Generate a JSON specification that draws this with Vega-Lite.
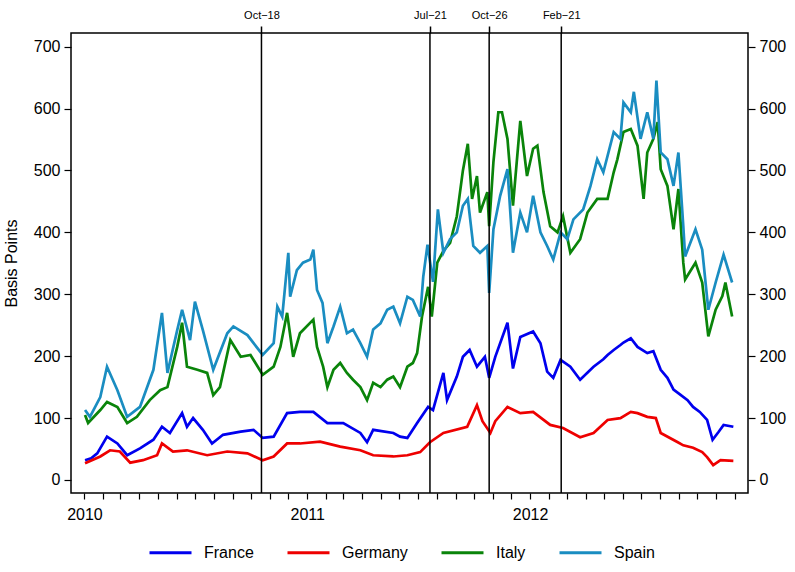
{
  "$schema": "https://vega.github.io/schema/vega-lite/v6.json",
  "width": 677,
  "height": 460,
  "autosize": {"type": "none"},
  "padding": {"left": 71, "top": 33, "right": 47, "bottom": 79},
  "config": {
    "font": "Liberation Sans",
    "view": {"stroke": "black", "strokeWidth": 1.5},
    "axis": {
      "domain": false,
      "grid": false,
      "tickColor": "black",
      "tickWidth": 1.2,
      "tickSize": 7,
      "labelColor": "black",
      "labelFont": "Liberation Sans",
      "labelFontSize": 16,
      "titleFont": "Liberation Sans",
      "titleFontSize": 16,
      "titleFontWeight": "normal",
      "titleColor": "black"
    }
  },
  "data": {
    "values": [
      {"date": "2010-01-02", "country": "France", "value": 32},
      {"date": "2010-01-12", "country": "France", "value": 35},
      {"date": "2010-01-22", "country": "France", "value": 43},
      {"date": "2010-02-07", "country": "France", "value": 70},
      {"date": "2010-02-24", "country": "France", "value": 59},
      {"date": "2010-03-12", "country": "France", "value": 40},
      {"date": "2010-04-02", "country": "France", "value": 51},
      {"date": "2010-04-24", "country": "France", "value": 65},
      {"date": "2010-05-08", "country": "France", "value": 86},
      {"date": "2010-05-21", "country": "France", "value": 76},
      {"date": "2010-06-10", "country": "France", "value": 108},
      {"date": "2010-06-18", "country": "France", "value": 86},
      {"date": "2010-06-28", "country": "France", "value": 100},
      {"date": "2010-07-14", "country": "France", "value": 81},
      {"date": "2010-07-29", "country": "France", "value": 59},
      {"date": "2010-08-16", "country": "France", "value": 73},
      {"date": "2010-09-14", "country": "France", "value": 78},
      {"date": "2010-10-05", "country": "France", "value": 81},
      {"date": "2010-10-20", "country": "France", "value": 68},
      {"date": "2010-11-07", "country": "France", "value": 70},
      {"date": "2010-11-29", "country": "France", "value": 108},
      {"date": "2010-12-20", "country": "France", "value": 110},
      {"date": "2011-01-11", "country": "France", "value": 110},
      {"date": "2011-02-03", "country": "France", "value": 92},
      {"date": "2011-03-01", "country": "France", "value": 92},
      {"date": "2011-03-29", "country": "France", "value": 76},
      {"date": "2011-04-09", "country": "France", "value": 61},
      {"date": "2011-04-19", "country": "France", "value": 81},
      {"date": "2011-05-22", "country": "France", "value": 76},
      {"date": "2011-06-02", "country": "France", "value": 70},
      {"date": "2011-06-14", "country": "France", "value": 68},
      {"date": "2011-06-30", "country": "France", "value": 92},
      {"date": "2011-07-18", "country": "France", "value": 118},
      {"date": "2011-07-26", "country": "France", "value": 113},
      {"date": "2011-08-12", "country": "France", "value": 173},
      {"date": "2011-08-18", "country": "France", "value": 129},
      {"date": "2011-09-03", "country": "France", "value": 167},
      {"date": "2011-09-13", "country": "France", "value": 199},
      {"date": "2011-09-24", "country": "France", "value": 210},
      {"date": "2011-10-06", "country": "France", "value": 183},
      {"date": "2011-10-19", "country": "France", "value": 199},
      {"date": "2011-10-26", "country": "France", "value": 165},
      {"date": "2011-11-05", "country": "France", "value": 199},
      {"date": "2011-11-25", "country": "France", "value": 254},
      {"date": "2011-12-04", "country": "France", "value": 180},
      {"date": "2011-12-16", "country": "France", "value": 231},
      {"date": "2012-01-06", "country": "France", "value": 240},
      {"date": "2012-01-18", "country": "France", "value": 221},
      {"date": "2012-01-29", "country": "France", "value": 175},
      {"date": "2012-02-08", "country": "France", "value": 165},
      {"date": "2012-02-20", "country": "France", "value": 194},
      {"date": "2012-03-07", "country": "France", "value": 183},
      {"date": "2012-03-23", "country": "France", "value": 162},
      {"date": "2012-04-14", "country": "France", "value": 183},
      {"date": "2012-04-30", "country": "France", "value": 195},
      {"date": "2012-05-07", "country": "France", "value": 202},
      {"date": "2012-05-17", "country": "France", "value": 210},
      {"date": "2012-05-28", "country": "France", "value": 218},
      {"date": "2012-06-02", "country": "France", "value": 222},
      {"date": "2012-06-14", "country": "France", "value": 229},
      {"date": "2012-06-25", "country": "France", "value": 215},
      {"date": "2012-07-11", "country": "France", "value": 205},
      {"date": "2012-07-21", "country": "France", "value": 208},
      {"date": "2012-08-02", "country": "France", "value": 178},
      {"date": "2012-08-13", "country": "France", "value": 165},
      {"date": "2012-08-23", "country": "France", "value": 146},
      {"date": "2012-09-03", "country": "France", "value": 138},
      {"date": "2012-09-15", "country": "France", "value": 129},
      {"date": "2012-09-24", "country": "France", "value": 118},
      {"date": "2012-10-05", "country": "France", "value": 110},
      {"date": "2012-10-17", "country": "France", "value": 97},
      {"date": "2012-10-26", "country": "France", "value": 65},
      {"date": "2012-11-05", "country": "France", "value": 78},
      {"date": "2012-11-13", "country": "France", "value": 89},
      {"date": "2012-11-29", "country": "France", "value": 86},

      {"date": "2010-01-02", "country": "Germany", "value": 27},
      {"date": "2010-01-27", "country": "Germany", "value": 38},
      {"date": "2010-02-12", "country": "Germany", "value": 48},
      {"date": "2010-02-28", "country": "Germany", "value": 46},
      {"date": "2010-03-17", "country": "Germany", "value": 28},
      {"date": "2010-04-07", "country": "Germany", "value": 32},
      {"date": "2010-04-30", "country": "Germany", "value": 40},
      {"date": "2010-05-08", "country": "Germany", "value": 59},
      {"date": "2010-05-26", "country": "Germany", "value": 46},
      {"date": "2010-06-18", "country": "Germany", "value": 48},
      {"date": "2010-07-21", "country": "Germany", "value": 40},
      {"date": "2010-08-23", "country": "Germany", "value": 46},
      {"date": "2010-09-25", "country": "Germany", "value": 43},
      {"date": "2010-10-20", "country": "Germany", "value": 32},
      {"date": "2010-11-07", "country": "Germany", "value": 38},
      {"date": "2010-11-29", "country": "Germany", "value": 59},
      {"date": "2010-12-20", "country": "Germany", "value": 59},
      {"date": "2011-01-22", "country": "Germany", "value": 62},
      {"date": "2011-02-24", "country": "Germany", "value": 54},
      {"date": "2011-03-29", "country": "Germany", "value": 48},
      {"date": "2011-04-19", "country": "Germany", "value": 40},
      {"date": "2011-05-22", "country": "Germany", "value": 38},
      {"date": "2011-06-14", "country": "Germany", "value": 40},
      {"date": "2011-07-05", "country": "Germany", "value": 45},
      {"date": "2011-07-21", "country": "Germany", "value": 61},
      {"date": "2011-08-12", "country": "Germany", "value": 76},
      {"date": "2011-09-20", "country": "Germany", "value": 86},
      {"date": "2011-10-06", "country": "Germany", "value": 121},
      {"date": "2011-10-15", "country": "Germany", "value": 95},
      {"date": "2011-10-28", "country": "Germany", "value": 76},
      {"date": "2011-11-05", "country": "Germany", "value": 95},
      {"date": "2011-11-25", "country": "Germany", "value": 118},
      {"date": "2011-12-16", "country": "Germany", "value": 108},
      {"date": "2012-01-06", "country": "Germany", "value": 110},
      {"date": "2012-02-03", "country": "Germany", "value": 89},
      {"date": "2012-02-24", "country": "Germany", "value": 84},
      {"date": "2012-03-23", "country": "Germany", "value": 69},
      {"date": "2012-04-14", "country": "Germany", "value": 76},
      {"date": "2012-05-07", "country": "Germany", "value": 97},
      {"date": "2012-05-28", "country": "Germany", "value": 100},
      {"date": "2012-06-14", "country": "Germany", "value": 110},
      {"date": "2012-06-25", "country": "Germany", "value": 108},
      {"date": "2012-07-11", "country": "Germany", "value": 102},
      {"date": "2012-07-25", "country": "Germany", "value": 100},
      {"date": "2012-08-02", "country": "Germany", "value": 76},
      {"date": "2012-08-30", "country": "Germany", "value": 61},
      {"date": "2012-09-08", "country": "Germany", "value": 56},
      {"date": "2012-09-24", "country": "Germany", "value": 52},
      {"date": "2012-10-09", "country": "Germany", "value": 45},
      {"date": "2012-10-17", "country": "Germany", "value": 37},
      {"date": "2012-10-27", "country": "Germany", "value": 24},
      {"date": "2012-11-08", "country": "Germany", "value": 32},
      {"date": "2012-11-29", "country": "Germany", "value": 31},

      {"date": "2010-01-02", "country": "Italy", "value": 105},
      {"date": "2010-01-07", "country": "Italy", "value": 92},
      {"date": "2010-01-27", "country": "Italy", "value": 113},
      {"date": "2010-02-07", "country": "Italy", "value": 126},
      {"date": "2010-02-24", "country": "Italy", "value": 118},
      {"date": "2010-03-12", "country": "Italy", "value": 92},
      {"date": "2010-03-28", "country": "Italy", "value": 102},
      {"date": "2010-04-18", "country": "Italy", "value": 129},
      {"date": "2010-05-05", "country": "Italy", "value": 145},
      {"date": "2010-05-17", "country": "Italy", "value": 150},
      {"date": "2010-06-02", "country": "Italy", "value": 215},
      {"date": "2010-06-10", "country": "Italy", "value": 254},
      {"date": "2010-06-18", "country": "Italy", "value": 183},
      {"date": "2010-07-05", "country": "Italy", "value": 178},
      {"date": "2010-07-21", "country": "Italy", "value": 173},
      {"date": "2010-07-31", "country": "Italy", "value": 137},
      {"date": "2010-08-11", "country": "Italy", "value": 150},
      {"date": "2010-08-28", "country": "Italy", "value": 226},
      {"date": "2010-09-14", "country": "Italy", "value": 199},
      {"date": "2010-09-30", "country": "Italy", "value": 202},
      {"date": "2010-10-20", "country": "Italy", "value": 170},
      {"date": "2010-11-07", "country": "Italy", "value": 183},
      {"date": "2010-11-18", "country": "Italy", "value": 215},
      {"date": "2010-11-29", "country": "Italy", "value": 270},
      {"date": "2010-12-09", "country": "Italy", "value": 199},
      {"date": "2010-12-20", "country": "Italy", "value": 237},
      {"date": "2011-01-11", "country": "Italy", "value": 259},
      {"date": "2011-01-17", "country": "Italy", "value": 215},
      {"date": "2011-01-27", "country": "Italy", "value": 183},
      {"date": "2011-02-03", "country": "Italy", "value": 150},
      {"date": "2011-02-13", "country": "Italy", "value": 178},
      {"date": "2011-02-24", "country": "Italy", "value": 189},
      {"date": "2011-03-07", "country": "Italy", "value": 173},
      {"date": "2011-03-17", "country": "Italy", "value": 162},
      {"date": "2011-03-29", "country": "Italy", "value": 150},
      {"date": "2011-04-09", "country": "Italy", "value": 129},
      {"date": "2011-04-19", "country": "Italy", "value": 157},
      {"date": "2011-05-01", "country": "Italy", "value": 150},
      {"date": "2011-05-12", "country": "Italy", "value": 162},
      {"date": "2011-05-22", "country": "Italy", "value": 167},
      {"date": "2011-06-02", "country": "Italy", "value": 150},
      {"date": "2011-06-14", "country": "Italy", "value": 183},
      {"date": "2011-06-23", "country": "Italy", "value": 189},
      {"date": "2011-06-30", "country": "Italy", "value": 205},
      {"date": "2011-07-08", "country": "Italy", "value": 264},
      {"date": "2011-07-18", "country": "Italy", "value": 312},
      {"date": "2011-07-24", "country": "Italy", "value": 264},
      {"date": "2011-08-02", "country": "Italy", "value": 351},
      {"date": "2011-08-12", "country": "Italy", "value": 370},
      {"date": "2011-08-23", "country": "Italy", "value": 383},
      {"date": "2011-09-03", "country": "Italy", "value": 426},
      {"date": "2011-09-13", "country": "Italy", "value": 500},
      {"date": "2011-09-21", "country": "Italy", "value": 543},
      {"date": "2011-09-28", "country": "Italy", "value": 454},
      {"date": "2011-10-06", "country": "Italy", "value": 491},
      {"date": "2011-10-11", "country": "Italy", "value": 432},
      {"date": "2011-10-23", "country": "Italy", "value": 465},
      {"date": "2011-10-26", "country": "Italy", "value": 410},
      {"date": "2011-11-02", "country": "Italy", "value": 514},
      {"date": "2011-11-10", "country": "Italy", "value": 594},
      {"date": "2011-11-16", "country": "Italy", "value": 594},
      {"date": "2011-11-25", "country": "Italy", "value": 551},
      {"date": "2011-12-04", "country": "Italy", "value": 443},
      {"date": "2011-12-16", "country": "Italy", "value": 580},
      {"date": "2011-12-27", "country": "Italy", "value": 491},
      {"date": "2012-01-06", "country": "Italy", "value": 535},
      {"date": "2012-01-13", "country": "Italy", "value": 540},
      {"date": "2012-01-23", "country": "Italy", "value": 465},
      {"date": "2012-02-03", "country": "Italy", "value": 410},
      {"date": "2012-02-15", "country": "Italy", "value": 400},
      {"date": "2012-02-24", "country": "Italy", "value": 426},
      {"date": "2012-03-07", "country": "Italy", "value": 367},
      {"date": "2012-03-23", "country": "Italy", "value": 389},
      {"date": "2012-04-04", "country": "Italy", "value": 432},
      {"date": "2012-04-20", "country": "Italy", "value": 454},
      {"date": "2012-05-07", "country": "Italy", "value": 454},
      {"date": "2012-05-17", "country": "Italy", "value": 497},
      {"date": "2012-05-23", "country": "Italy", "value": 518},
      {"date": "2012-06-02", "country": "Italy", "value": 562},
      {"date": "2012-06-14", "country": "Italy", "value": 567},
      {"date": "2012-06-25", "country": "Italy", "value": 540},
      {"date": "2012-07-05", "country": "Italy", "value": 454},
      {"date": "2012-07-11", "country": "Italy", "value": 529},
      {"date": "2012-07-21", "country": "Italy", "value": 551},
      {"date": "2012-07-28", "country": "Italy", "value": 578},
      {"date": "2012-08-02", "country": "Italy", "value": 502},
      {"date": "2012-08-13", "country": "Italy", "value": 475},
      {"date": "2012-08-23", "country": "Italy", "value": 405},
      {"date": "2012-08-31", "country": "Italy", "value": 470},
      {"date": "2012-09-08", "country": "Italy", "value": 351},
      {"date": "2012-09-11", "country": "Italy", "value": 324},
      {"date": "2012-09-28", "country": "Italy", "value": 351},
      {"date": "2012-10-09", "country": "Italy", "value": 319},
      {"date": "2012-10-19", "country": "Italy", "value": 232},
      {"date": "2012-10-31", "country": "Italy", "value": 275},
      {"date": "2012-11-11", "country": "Italy", "value": 297},
      {"date": "2012-11-16", "country": "Italy", "value": 319},
      {"date": "2012-11-27", "country": "Italy", "value": 264},

      {"date": "2010-01-02", "country": "Spain", "value": 113},
      {"date": "2010-01-10", "country": "Spain", "value": 102},
      {"date": "2010-01-27", "country": "Spain", "value": 134},
      {"date": "2010-02-07", "country": "Spain", "value": 183},
      {"date": "2010-02-24", "country": "Spain", "value": 145},
      {"date": "2010-03-12", "country": "Spain", "value": 102},
      {"date": "2010-04-02", "country": "Spain", "value": 118},
      {"date": "2010-04-24", "country": "Spain", "value": 178},
      {"date": "2010-05-08", "country": "Spain", "value": 270},
      {"date": "2010-05-17", "country": "Spain", "value": 173},
      {"date": "2010-06-02", "country": "Spain", "value": 242},
      {"date": "2010-06-10", "country": "Spain", "value": 275},
      {"date": "2010-06-23", "country": "Spain", "value": 226},
      {"date": "2010-07-01", "country": "Spain", "value": 288},
      {"date": "2010-07-14", "country": "Spain", "value": 242},
      {"date": "2010-07-31", "country": "Spain", "value": 178},
      {"date": "2010-08-23", "country": "Spain", "value": 237},
      {"date": "2010-09-02", "country": "Spain", "value": 248},
      {"date": "2010-09-25", "country": "Spain", "value": 234},
      {"date": "2010-10-20", "country": "Spain", "value": 202},
      {"date": "2010-11-07", "country": "Spain", "value": 221},
      {"date": "2010-11-13", "country": "Spain", "value": 280},
      {"date": "2010-11-21", "country": "Spain", "value": 264},
      {"date": "2010-12-01", "country": "Spain", "value": 367},
      {"date": "2010-12-04", "country": "Spain", "value": 296},
      {"date": "2010-12-15", "country": "Spain", "value": 339},
      {"date": "2010-12-25", "country": "Spain", "value": 351},
      {"date": "2011-01-06", "country": "Spain", "value": 356},
      {"date": "2011-01-11", "country": "Spain", "value": 372},
      {"date": "2011-01-17", "country": "Spain", "value": 307},
      {"date": "2011-01-26", "country": "Spain", "value": 286},
      {"date": "2011-02-03", "country": "Spain", "value": 221},
      {"date": "2011-02-13", "country": "Spain", "value": 248},
      {"date": "2011-02-24", "country": "Spain", "value": 280},
      {"date": "2011-03-07", "country": "Spain", "value": 237},
      {"date": "2011-03-17", "country": "Spain", "value": 243},
      {"date": "2011-03-29", "country": "Spain", "value": 221},
      {"date": "2011-04-09", "country": "Spain", "value": 199},
      {"date": "2011-04-19", "country": "Spain", "value": 243},
      {"date": "2011-05-01", "country": "Spain", "value": 253},
      {"date": "2011-05-12", "country": "Spain", "value": 275},
      {"date": "2011-05-22", "country": "Spain", "value": 280},
      {"date": "2011-06-02", "country": "Spain", "value": 253},
      {"date": "2011-06-14", "country": "Spain", "value": 296},
      {"date": "2011-06-23", "country": "Spain", "value": 291},
      {"date": "2011-07-05", "country": "Spain", "value": 264},
      {"date": "2011-07-10", "country": "Spain", "value": 328},
      {"date": "2011-07-17", "country": "Spain", "value": 380},
      {"date": "2011-07-26", "country": "Spain", "value": 320},
      {"date": "2011-08-03", "country": "Spain", "value": 437},
      {"date": "2011-08-12", "country": "Spain", "value": 367},
      {"date": "2011-08-23", "country": "Spain", "value": 389},
      {"date": "2011-09-03", "country": "Spain", "value": 400},
      {"date": "2011-09-13", "country": "Spain", "value": 443},
      {"date": "2011-09-21", "country": "Spain", "value": 454},
      {"date": "2011-09-30", "country": "Spain", "value": 378},
      {"date": "2011-10-11", "country": "Spain", "value": 367},
      {"date": "2011-10-23", "country": "Spain", "value": 378},
      {"date": "2011-10-26", "country": "Spain", "value": 302},
      {"date": "2011-11-02", "country": "Spain", "value": 405},
      {"date": "2011-11-13", "country": "Spain", "value": 459},
      {"date": "2011-11-25", "country": "Spain", "value": 502},
      {"date": "2011-12-04", "country": "Spain", "value": 367},
      {"date": "2011-12-16", "country": "Spain", "value": 432},
      {"date": "2011-12-27", "country": "Spain", "value": 400},
      {"date": "2012-01-06", "country": "Spain", "value": 459},
      {"date": "2012-01-18", "country": "Spain", "value": 400},
      {"date": "2012-01-29", "country": "Spain", "value": 378},
      {"date": "2012-02-08", "country": "Spain", "value": 356},
      {"date": "2012-02-20", "country": "Spain", "value": 400},
      {"date": "2012-03-02", "country": "Spain", "value": 389},
      {"date": "2012-03-12", "country": "Spain", "value": 421},
      {"date": "2012-03-28", "country": "Spain", "value": 437},
      {"date": "2012-04-09", "country": "Spain", "value": 475},
      {"date": "2012-04-20", "country": "Spain", "value": 518},
      {"date": "2012-04-30", "country": "Spain", "value": 497},
      {"date": "2012-05-17", "country": "Spain", "value": 562},
      {"date": "2012-05-28", "country": "Spain", "value": 551},
      {"date": "2012-06-02", "country": "Spain", "value": 610},
      {"date": "2012-06-14", "country": "Spain", "value": 594},
      {"date": "2012-06-19", "country": "Spain", "value": 627},
      {"date": "2012-06-30", "country": "Spain", "value": 551},
      {"date": "2012-07-11", "country": "Spain", "value": 594},
      {"date": "2012-07-21", "country": "Spain", "value": 551},
      {"date": "2012-07-26", "country": "Spain", "value": 645},
      {"date": "2012-08-02", "country": "Spain", "value": 529},
      {"date": "2012-08-13", "country": "Spain", "value": 518},
      {"date": "2012-08-23", "country": "Spain", "value": 475},
      {"date": "2012-08-31", "country": "Spain", "value": 529},
      {"date": "2012-09-08", "country": "Spain", "value": 410},
      {"date": "2012-09-11", "country": "Spain", "value": 361},
      {"date": "2012-09-28", "country": "Spain", "value": 405},
      {"date": "2012-10-09", "country": "Spain", "value": 372},
      {"date": "2012-10-19", "country": "Spain", "value": 275},
      {"date": "2012-10-31", "country": "Spain", "value": 319},
      {"date": "2012-11-13", "country": "Spain", "value": 364},
      {"date": "2012-11-27", "country": "Spain", "value": 319}
    ]
  },
  "layer": [
    {
      "mark": {"type": "line", "strokeWidth": 2.7},
      "encoding": {
        "x": {
          "field": "date",
          "type": "temporal",
          "scale": {
            "type": "utc",
            "domain": [
              {"year": 2009, "month": 12, "date": 10, "utc": true},
              {"year": 2012, "month": 12, "date": 23, "utc": true}
            ],
            "nice": false
          },
          "axis": {
            "orient": "bottom",
            "title": null,
            "tickCount": {"interval": "month", "step": 1},
            "labelExpr": "utcmonth(datum.value) == 0 ? utcFormat(datum.value, '%Y') : ''",
            "labelOverlap": false,
            "labelFlush": false,
            "labelBound": false,
            "labelPadding": 7,
            "tickSize": 6
          }
        },
        "y": {
          "field": "value",
          "type": "quantitative",
          "scale": {"domain": [-21, 722], "nice": false, "zero": false},
          "axis": {
            "orient": "left",
            "title": "Basis Points",
            "values": [0, 100, 200, 300, 400, 500, 600, 700],
            "labelPadding": 4,
            "titlePadding": 14
          }
        },
        "color": {
          "field": "country",
          "type": "nominal",
          "scale": {
            "domain": ["France", "Germany", "Italy", "Spain"],
            "range": ["#0000ee", "#ee0000", "#0a840a", "#1a8dc1"]
          },
          "legend": {
            "title": null,
            "orient": "none",
            "legendX": 77,
            "legendY": 497,
            "direction": "horizontal",
            "columns": 4,
            "symbolType": "stroke",
            "symbolSize": 1764,
            "symbolStrokeWidth": 3,
            "labelFontSize": 16,
            "labelColor": "black",
            "labelOffset": 11,
            "columnPadding": 27
          }
        }
      }
    },
    {
      "data": {
        "values": [
          {"event": "2010-10-18"},
          {"event": "2011-07-21"},
          {"event": "2011-10-26"},
          {"event": "2012-02-21"}
        ]
      },
      "mark": {"type": "rule", "color": "black", "strokeWidth": 1.5},
      "encoding": {
        "x": {
          "field": "event",
          "type": "temporal",
          "axis": {
            "orient": "top",
            "title": null,
            "values": [
              {"year": 2010, "month": 10, "date": 18, "utc": true},
              {"year": 2011, "month": 7, "date": 21, "utc": true},
              {"year": 2011, "month": 10, "date": 26, "utc": true},
              {"year": 2012, "month": 2, "date": 21, "utc": true}
            ],
            "labelExpr": "utcFormat(datum.value, '%b') + '\u2212' + utcFormat(datum.value, '%d')",
            "labelFontSize": 11,
            "labelFlush": false,
            "labelOverlap": false,
            "labelPadding": 6,
            "tickSize": 7,
            "tickWidth": 1.5
          }
        },
        "y": {
          "datum": -21,
          "axis": {
            "orient": "right",
            "title": null,
            "values": [0, 100, 200, 300, 400, 500, 600, 700],
            "labelPadding": 4
          }
        },
        "y2": {"datum": 722}
      }
    }
  ],
  "resolve": {"axis": {"x": "independent", "y": "independent"}}
}
